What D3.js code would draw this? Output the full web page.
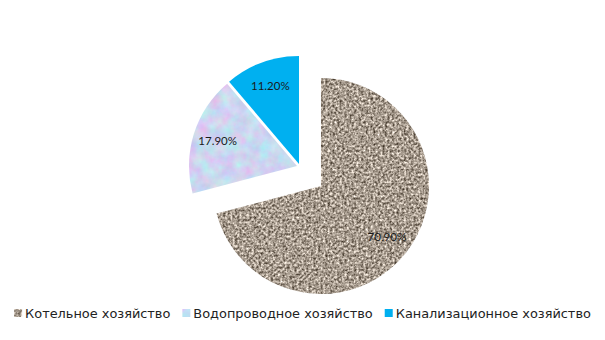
<!DOCTYPE html>
<html>
<head>
<meta charset="utf-8">
<script src="https://cdn.jsdelivr.net/npm/d3@7"></script>
<style>
  body { margin: 0; background: #fff; }
  .lbl { font-family: Lato, "Liberation Sans", sans-serif; font-size: 11.5px; fill: #1a1a1a; }
  .leg { font-family: "DejaVu Sans", sans-serif; font-size: 12.9px; fill: #222; }
</style>
</head>
<body>
<script>
// categories and shares (%)
var categories = ["Котельное хозяйство", "Водопроводное хозяйство", "Канализационное хозяйство"]
var shares = [70.9, 17.9, 11.2]
var labels = ["70.90%", "17.90%", "11.20%"]

var w = 605
var h = 340
var center = {x: 321, y: 186}
var radius = 108
// how far each slice is pulled out of the pie
var explode = [[0, 0], [-24, -20], [-22, -22]]
var fills = ["url(#granite)", "url(#mottle)", "#00b0f0"]

var svg = d3.select("body")
            .append("svg")
            .attr("width", w)
            .attr("height", h)

// textures
var defs = svg.append("defs")

var granite = defs.append("filter")
                  .attr("id", "granite")
                  .attr("color-interpolation-filters", "sRGB")
granite.append("feTurbulence")
       .attr("type", "fractalNoise")
       .attr("baseFrequency", "0.42")
       .attr("numOctaves", 2)
       .attr("seed", 4)
       .attr("result", "n")
granite.append("feColorMatrix")
       .attr("in", "n")
       .attr("type", "matrix")
       .attr("values", "1.15 0 0 0 0.08  1.15 0 0 0 0.035  1.15 0 0 0 -0.015  0 0 0 0 1")
       .attr("result", "c")
granite.append("feComposite")
       .attr("in", "c")
       .attr("in2", "SourceGraphic")
       .attr("operator", "in")

var mottle = defs.append("filter")
                 .attr("id", "mottle")
                 .attr("color-interpolation-filters", "sRGB")
mottle.append("feTurbulence")
      .attr("type", "fractalNoise")
      .attr("baseFrequency", "0.08")
      .attr("numOctaves", 4)
      .attr("seed", 9)
      .attr("result", "n")
mottle.append("feColorMatrix")
      .attr("in", "n")
      .attr("type", "matrix")
      .attr("values", "0.3 0 0 0 0.65  -0.2 0.2 0 0 0.84  0 0 0.1 0 0.89  0 0 0 0 1")
      .attr("result", "c")
mottle.append("feComposite")
      .attr("in", "c")
      .attr("in2", "SourceGraphic")
      .attr("operator", "in")

var pie = d3.pie()
            .sort(null)
            .value(function(d) { return d; })

var arc = d3.arc()
            .innerRadius(0)
            .outerRadius(radius)

var labelArc = d3.arc()
                 .innerRadius(radius * 0.77)
                 .outerRadius(radius * 0.77)

var slices = svg.selectAll(".slice")
                .data(pie(shares))
                .enter()
                .append("g")
                .attr("class", "slice")
                .attr("transform", function(d, i) {
                   return "translate(" + (center.x + explode[i][0]) + "," + (center.y + explode[i][1]) + ")";
                })

slices.append("path")
      .attr("d", arc)
      .attr("fill", function(d, i) { return i == 2 ? fills[2] : "#999"; })
      .attr("filter", function(d, i) { return i == 2 ? null : fills[i]; })

slices.append("text")
      .attr("class", "lbl")
      .attr("transform", function(d) {
         var c = labelArc.centroid(d);
         return "translate(" + c[0] + "," + c[1] + ")";
      })
      .attr("text-anchor", "middle")
      .attr("dy", "0.35em")
      .text(function(d, i) { return labels[i]; })

// legend
var legend = svg.append("g")
var x = 0
categories.forEach(function(name, i) {
  var item = legend.append("g")
                   .attr("transform", "translate(" + x + ",0)")
  item.append("rect")
      .attr("x", 0)
      .attr("y", -4)
      .attr("width", 8)
      .attr("height", 8)
      .attr("fill", i == 2 ? fills[2] : "#999")
      .attr("filter", i == 2 ? null : fills[i])
  var t = item.append("text")
              .attr("class", "leg")
              .attr("x", 11)
              .attr("dy", "0.35em")
              .text(name)
  x += 11 + t.node().getComputedTextLength() + 12
})
var legW = x - 12
legend.attr("transform", "translate(" + ((w - legW) / 2) + ",313)")
</script>
</body>
</html>
